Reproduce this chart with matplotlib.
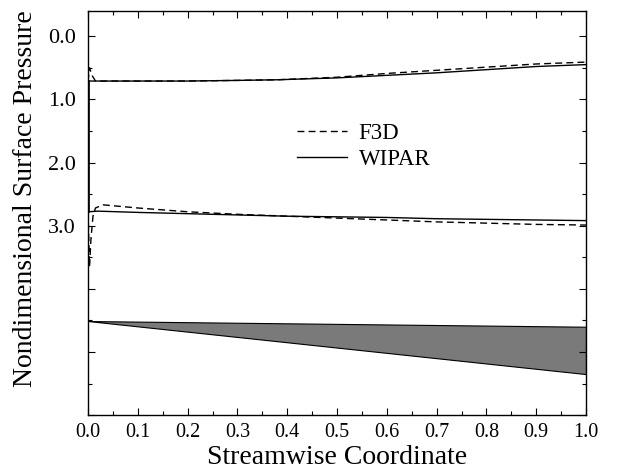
import matplotlib
matplotlib.use("Agg")
import matplotlib.pyplot as plt
from matplotlib.ticker import MultipleLocator, FixedLocator, FixedFormatter

# Upper surface
up_x_f3d = [0.0, 0.003, 0.008, 0.015, 0.05, 0.1, 0.2, 0.3, 0.38, 0.5, 0.6, 0.7, 0.8, 0.9, 1.0]
up_y_f3d = [0.72, 0.50, 0.62, 0.71, 0.71, 0.71, 0.71, 0.70, 0.69, 0.65, 0.59, 0.54, 0.49, 0.44, 0.41]
up_x_wip = [0.0, 0.01, 0.05, 0.1, 0.2, 0.3, 0.38, 0.5, 0.6, 0.7, 0.8, 0.9, 1.0]
up_y_wip = [0.71, 0.71, 0.71, 0.71, 0.71, 0.70, 0.69, 0.66, 0.62, 0.58, 0.53, 0.48, 0.45]

# Lower surface
lo_x_f3d = [0.0, 0.003, 0.006, 0.01, 0.015, 0.03, 0.1, 0.2, 0.3, 0.4, 0.5, 0.6, 0.7, 0.8, 0.9, 1.0]
lo_y_f3d = [2.78, 3.65, 3.2, 2.85, 2.72, 2.67, 2.72, 2.78, 2.82, 2.85, 2.88, 2.91, 2.94, 2.96, 2.98, 2.99]
lo_x_wip = [0.0, 0.02, 0.1, 0.2, 0.3, 0.4, 0.5, 0.6, 0.7, 0.8, 0.9, 1.0]
lo_y_wip = [2.78, 2.77, 2.79, 2.81, 2.83, 2.85, 2.86, 2.87, 2.89, 2.90, 2.91, 2.92]

# Body cross-section
body_x = [0.0, 1.0]
body_top = [4.51, 4.60]
body_bot = [4.51, 5.35]

xticks = [0.0, 0.1, 0.2, 0.3, 0.4, 0.5, 0.6, 0.7, 0.8, 0.9, 1.0]
yticks = [0.0, 1.0, 2.0, 3.0]

plt.rcParams['font.family'] = ['Liberation Serif', 'DejaVu Serif']

fig = plt.figure(figsize=(6.26, 4.75), dpi=100)
ax = fig.add_axes([0.1406, 0.126, 0.7955, 0.851])

ax.fill_between(body_x, body_top, body_bot, color='#7a7a7a', lw=0.8, edgecolor='black')
ax.plot([1.0, 1.0], [body_top[1], body_bot[1]], color='black', lw=0.8)

ax.plot(up_x_f3d, up_y_f3d, 'k--', lw=1.0, dashes=(5, 3), label='F3D')
ax.plot(up_x_wip, up_y_wip, 'k-', lw=1.0, label='WIPAR')
ax.plot(lo_x_f3d, lo_y_f3d, 'k--', lw=1.0, dashes=(5, 3))
ax.plot(lo_x_wip, lo_y_wip, 'k-', lw=1.0)
# leading edge closing line
ax.plot([0.002, 0.002], [up_y_wip[0], lo_y_wip[0]], 'k-', lw=1.2)

ax.set_xlim(0.0, 1.0)
ax.set_ylim(6.0, -0.4)

ax.xaxis.set_major_locator(FixedLocator(xticks))
ax.xaxis.set_minor_locator(MultipleLocator(0.05))
ax.set_xticklabels([f"{t:.1f}" for t in xticks])
ax.yaxis.set_major_locator(FixedLocator([0, 1, 2, 3, 4, 5, 6]))
ax.yaxis.set_major_formatter(FixedFormatter([f"{t:.1f}" for t in yticks] + ["", "", ""]))
ax.yaxis.set_minor_locator(MultipleLocator(0.5))

ax.tick_params(which='both', direction='in', top=True, right=True)
ax.tick_params(axis='x', which='major', labelsize=14.5, pad=6)
ax.tick_params(axis='y', which='major', labelsize=16, pad=9)
ax.tick_params(which='major', length=5, width=0.8)
ax.tick_params(which='minor', length=3, width=0.8)
for s in ax.spines.values():
    s.set_linewidth(1.0)

ax.set_xlabel('Streamwise Coordinate', fontsize=20, labelpad=2)
ax.set_ylabel('Nondimensional Surface Pressure', fontsize=20)
ax.yaxis.set_label_coords(-0.10, 0.535)

ax.legend(frameon=False, loc='upper left', bbox_to_anchor=(0.378, 0.775),
          fontsize=16.5, handlelength=2.2, handletextpad=0.5, labelspacing=0.25)

fig.savefig('out.png', dpi=100)
